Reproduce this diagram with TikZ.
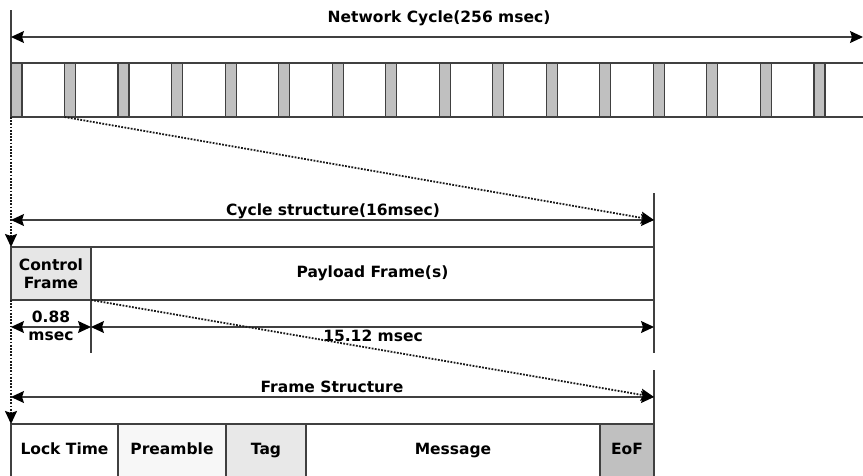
\documentclass[tikz,border=0pt]{standalone}
\usepackage{fontspec}
\setmainfont{DejaVu Sans}
\usetikzlibrary{arrows.meta}
\definecolor{lc}{HTML}{404040}
\definecolor{barfill}{HTML}{C0C0C0}
\definecolor{ctrlfill}{HTML}{E6E6E6}
\definecolor{prefill}{HTML}{F7F7F7}
\definecolor{tagfill}{HTML}{E8E8E8}
\tikzset{bigtip/.tip={Stealth[length=13pt,width=12pt,inset=2pt,color=black]}}
\begin{document}
\begin{tikzpicture}[x=1pt,y=-1pt,
  ln/.style={draw=lc, line width=1.2pt},
  lbl/.style={font=\bfseries\fontsize{15.5}{18.5}\selectfont, inner sep=0pt, align=center},
  dimarrow/.style={ln, bigtip-bigtip},
  dotarrow/.style={draw=black!90, line width=1.8pt, dash pattern=on 1.8pt off 1.4pt, -bigtip},
  bar/.style={ln, fill=barfill, minimum width=11pt, minimum height=54pt, inner sep=0pt, outer sep=0pt, anchor=north west},
  box/.style={ln, minimum height=53pt, inner sep=0pt, outer sep=0pt, anchor=north west, font=\bfseries\fontsize{15.5}{18.5}\selectfont, align=center},
  oneline/.style={text height=11.5pt, text depth=3.5pt},
]
\useasboundingbox (0,0) rectangle (863,475);
\clip (0,0) rectangle (863,475);

% ---- Network cycle ----
\node[ln, minimum width=870pt, minimum height=54pt, inner sep=0pt, outer sep=0pt, anchor=north west] (strip) at (11,63) {};
\foreach \i in {0,...,15} {
  \node[bar] (bar\i) at ({11+53.53*\i},63) {};
}
\coordinate (ntop) at (11,10);
\draw[ln] (ntop) -- (strip.north west);
\coordinate (nl) at (11,37);
\coordinate (nr) at (863,37);
\draw[dimarrow] (nl) -- (nr);
\node[lbl] (nlabel) at (439,18) {Network Cycle(256 msec)};

% ---- Cycle structure ----
\node[box, fill=ctrlfill, minimum width=80pt] (ctrl) at (11,247) {Control\\Frame};
\node[box, oneline, minimum width=563pt] (payload) at (ctrl.north east) {Payload Frame(s)};
\coordinate (ct) at (654,193);
\coordinate (cb) at (654,353);
\draw[ln] (ct) -- (cb);
\coordinate (cdiv) at (91,353);
\draw[ln] (ctrl.south east) -- (cdiv);
\coordinate (cl) at (11,220);
\coordinate (cr) at (654,220);
\draw[dimarrow] (cl) -- (cr);
\node[lbl] (clabel) at (333,211) {Cycle structure(16msec)};
\coordinate (sl) at (11,327);
\coordinate (sm) at (91,327);
\coordinate (sr) at (654,327);
\draw[dimarrow] (sl) -- (sm);
\draw[dimarrow] (sm) -- (sr);
\node[lbl] (s1) at (51,326) {0.88\\msec};
\node[lbl] (s2) at (373,336) {15.12 msec};

% ---- Frame structure ----
\node[box, oneline, minimum width=107pt] (lock) at (11,424) {Lock Time};
\node[box, oneline, fill=prefill, minimum width=108pt] (pre) at (lock.north east) {Preamble};
\node[box, oneline, fill=tagfill, minimum width=80pt] (tag) at (pre.north east) {Tag};
\node[box, oneline, minimum width=294pt] (msg) at (tag.north east) {Message};
\node[box, oneline, fill=barfill, minimum width=54pt] (eof) at (msg.north east) {EoF};
\coordinate (ft) at (654,370);
\draw[ln] (ft) -- (eof.north east);
\coordinate (fl) at (11,397);
\coordinate (fr) at (654,397);
\draw[dimarrow] (fl) -- (fr);
\node[lbl] (flabel) at (332,387) {Frame Structure};

% ---- dotted connectors ----
\draw[dotarrow] (bar1.south west) -- (cr);
\draw[dotarrow] (ctrl.south east) -- (fr);
\draw[dotarrow] (strip.south west) -- (ctrl.north west);
\draw[dotarrow] (ctrl.south west) -- (lock.north west);
\end{tikzpicture}
\end{document}
